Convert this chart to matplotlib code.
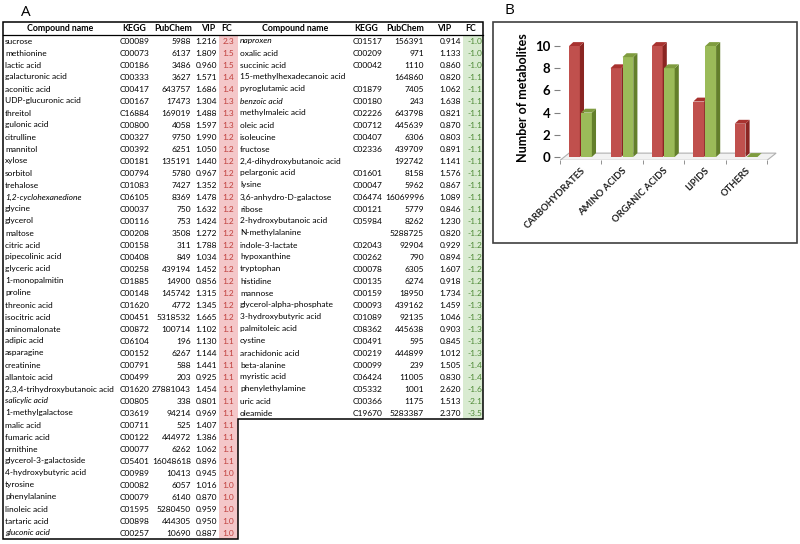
import matplotlib.pyplot as plt
from matplotlib.patches import Polygon, Rectangle

plt.rcParams['font.family'] = ['Lato', 'DejaVu Sans']

# ── Table A data (left block) ─────────────────────────────────
left_names = ['sucrose', 'methionine', 'lactic acid', 'galacturonic acid', 'aconitic acid',
              'UDP-glucuronic acid', 'threitol', 'gulonic acid', 'citrulline', 'mannitol',
              'xylose', 'sorbitol', 'trehalose', '1,2-cyclohexanedione', 'glycine',
              'glycerol', 'maltose', 'citric acid', 'pipecolinic acid', 'glyceric acid',
              '1-monopalmitin', 'proline', 'threonic acid', 'isocitric acid', 'aminomalonate',
              'adipic acid', 'asparagine', 'creatinine', 'allantoic acid',
              '2,3,4-trihydroxybutanoic acid', 'salicylic acid', '1-methylgalactose',
              'malic acid', 'fumaric acid', 'ornithine', 'glycerol-3-galactoside',
              '4-hydroxybutyric acid', 'tyrosine', 'phenylalanine', 'linoleic acid',
              'tartaric acid', 'gluconic acid']
left_kegg = ['C00089', 'C00073', 'C00186', 'C00333', 'C00417', 'C00167', 'C16884', 'C00800',
             'C00327', 'C00392', 'C00181', 'C00794', 'C01083', 'C06105', 'C00037', 'C00116',
             'C00208', 'C00158', 'C00408', 'C00258', 'C01885', 'C00148', 'C01620', 'C00451',
             'C00872', 'C06104', 'C00152', 'C00791', 'C00499', 'C01620', 'C00805', 'C03619',
             'C00711', 'C00122', 'C00077', 'C05401', 'C00989', 'C00082', 'C00079', 'C01595',
             'C00898', 'C00257']
left_pubchem = [5988, 6137, 3486, 3627, 643757, 17473, 169019, 4058, 9750, 6251, 135191, 5780,
                7427, 8369, 750, 753, 3508, 311, 849, 439194, 14900, 145742, 4772, 5318532,
                100714, 196, 6267, 588, 203, 27881043, 338, 94214, 525, 444972, 6262,
                16048618, 10413, 6057, 6140, 5280450, 444305, 10690]
left_vip = [1.216, 1.809, 0.960, 1.571, 1.686, 1.304, 1.488, 1.597, 1.990, 1.050, 1.440, 0.967,
            1.352, 1.478, 1.632, 1.424, 1.272, 1.788, 1.034, 1.452, 0.856, 1.315, 1.345, 1.665,
            1.102, 1.130, 1.144, 1.441, 0.925, 1.454, 0.801, 0.969, 1.407, 1.386, 1.062,
            0.896, 0.945, 1.016, 0.870, 0.959, 0.950, 0.887]
left_fc = [2.3, 1.5, 1.5, 1.4, 1.4, 1.3, 1.3, 1.3, 1.2, 1.2, 1.2, 1.2, 1.2, 1.2, 1.2, 1.2, 1.2,
           1.2, 1.2, 1.2, 1.2, 1.2, 1.2, 1.2, 1.1, 1.1, 1.1, 1.1, 1.1, 1.1, 1.1, 1.1, 1.1, 1.1,
           1.1, 1.1, 1.0, 1.0, 1.0, 1.0, 1.0, 1.0]

# ── Table A data (right block) ────────────────────────────────
right_names = ['naproxen', 'oxalic acid', 'succinic acid', '15-methylhexadecanoic acid',
               'pyroglutamic acid', 'benzoic acid', 'methylmaleic acid', 'oleic acid',
               'isoleucine', 'fructose', '2,4-dihydroxybutanoic acid', 'pelargonic acid',
               'lysine', '3,6-anhydro-D-galactose', 'ribose', '2-hydroxybutanoic acid',
               'N-methylalanine', 'indole-3-lactate', 'hypoxanthine', 'tryptophan',
               'histidine', 'mannose', 'glycerol-alpha-phosphate', '3-hydroxybutyric acid',
               'palmitoleic acid', 'cystine', 'arachidonic acid', 'beta-alanine',
               'myristic acid', 'phenylethylamine', 'uric acid', 'oleamide']
right_kegg = ['C01517', 'C00209', 'C00042', '', 'C01879', 'C00180', 'C02226', 'C00712',
              'C00407', 'C02336', '', 'C01601', 'C00047', 'C06474', 'C00121', 'C05984', '',
              'C02043', 'C00262', 'C00078', 'C00135', 'C00159', 'C00093', 'C01089', 'C08362',
              'C00491', 'C00219', 'C00099', 'C06424', 'C05332', 'C00366', 'C19670']
right_pubchem = [156391, 971, 1110, 164860, 7405, 243, 643798, 445639, 6306, 439709, 192742,
                 8158, 5962, 16069996, 5779, 8262, 5288725, 92904, 790, 6305, 6274, 18950,
                 439162, 92135, 445638, 595, 444899, 239, 11005, 1001, 1175, 5283387]
right_vip = [0.914, 1.133, 0.860, 0.820, 1.062, 1.638, 0.821, 0.870, 0.803, 0.891, 1.141,
             1.576, 0.867, 1.089, 0.846, 1.230, 0.820, 0.929, 0.894, 1.607, 0.918, 1.734,
             1.459, 1.046, 0.903, 0.845, 1.012, 1.505, 0.830, 2.620, 1.513, 2.370]
right_fc = [-1.0, -1.0, -1.0, -1.1, -1.1, -1.1, -1.1, -1.1, -1.1, -1.1, -1.1, -1.1, -1.1,
            -1.1, -1.1, -1.1, -1.2, -1.2, -1.2, -1.2, -1.2, -1.2, -1.3, -1.3, -1.3, -1.3,
            -1.3, -1.4, -1.4, -1.6, -2.1, -3.5]

italic_names = {'1,2-cyclohexanedione', 'salicylic acid', 'gluconic acid', 'naproxen',
                'benzoic acid'}
headers = ['Compound name', 'KEGG', 'PubChem', 'VIP', 'FC']

# ── Panel B data ──────────────────────────────────────────────
categories = ['CARBOHYDRATES', 'AMINO ACIDS', 'ORGANIC ACIDS', 'LIPIDS', 'OTHERS']
red_counts = [10, 8, 10, 5, 3]
green_counts = [4, 9, 8, 10, 0]
y_ticks = [0, 2, 4, 6, 8, 10]

# colours
PINK = '#f4c7c9'; LGREEN = '#d9ebd1'
FC_RED = '#c0403d'; FC_GREEN = '#4e8a36'
RED = '#c0504d'; RED_SIDE = '#8a2522'; RED_TOP = '#a8322f'
GRN = '#9bbb59'; GRN_SIDE = '#637f2b'; GRN_TOP = '#7f9c3f'

W, H = 800, 544
fig = plt.figure(figsize=(W / 100, H / 100), dpi=100)

# pixel-space overlay for the table and frames
ax0 = fig.add_axes([0, 0, 1, 1])
ax0.set_xlim(0, W)
ax0.set_ylim(H, 0)
ax0.axis('off')

TOP, HDR, ROW0, PITCH = 22, 35, 41, 12.0
FS = 6.0

def ry(i):
    return ROW0 + i * PITCH

bot_r = ry(len(right_names) - 1) + PITCH / 2
bot_l = ry(len(left_names) - 1) + PITCH / 2

ax0.add_patch(Rectangle((219, HDR), 19, bot_l - HDR, fc=PINK, ec='none'))
ax0.add_patch(Rectangle((463, HDR), 20, bot_r - HDR, fc=LGREEN, ec='none'))
ax0.add_patch(Polygon([(3, TOP), (483, TOP), (483, bot_r), (238, bot_r),
                       (238, bot_l), (3, bot_l)], closed=True, fill=False,
                      ec='black', lw=1.1))
ax0.plot([3, 483], [HDR, HDR], color='black', lw=0.9)

ax0.text(26, 12, 'A', fontsize=11, ha='center', va='center', family='Open Sans')
ax0.text(509, 10, 'B', fontsize=11, ha='center', va='center', family='Open Sans')

# header cells
hy = (TOP + HDR) / 2
for hx, txt in zip([60, 134, 173, 208, 227], headers):
    ax0.text(hx, hy, txt, fontsize=FS + 0.3, fontweight='bold', ha='center', va='center')
for hx, txt in zip([295, 366, 405, 444, 471], headers):
    ax0.text(hx, hy, txt, fontsize=FS + 0.3, fontweight='bold', ha='center', va='center')

def draw_block(names, kegg, pub, vip, fc, xs, fc_col):
    x_name, x_kegg, x_pub, x_vip, x_fc = xs
    for i, nm in enumerate(names):
        y = ry(i)
        st = 'italic' if nm in italic_names else 'normal'
        ax0.text(x_name, y, nm, fontsize=FS, style=st, ha='left', va='center')
        ax0.text(x_kegg, y, kegg[i], fontsize=FS, ha='left', va='center')
        ax0.text(x_pub, y, str(pub[i]), fontsize=FS, ha='right', va='center')
        ax0.text(x_vip, y, f'{vip[i]:.3f}', fontsize=FS, ha='right', va='center')
        ax0.text(x_fc, y, f'{fc[i]:.1f}', fontsize=FS, ha='right', va='center', color=fc_col)

draw_block(left_names, left_kegg, left_pubchem, left_vip, left_fc,
           (5, 120, 191, 217, 234), FC_RED)
draw_block(right_names, right_kegg, right_pubchem, right_vip, right_fc,
           (240, 353, 424, 461, 482), FC_GREEN)

# panel B frame
ax0.add_patch(Rectangle((493, 22), 304, 221, fill=False, ec='#404040', lw=1.2))

# ── Panel B: pseudo-3D clustered columns ──────────────────────
YMIN, YMAX, XMIN, XMAX = -0.3, 11.0, -0.5, 4.9
PX_X, PX_Y = 41.4, 11.1
y0_px = 157
ax = fig.add_axes([560 / W, 1 - (y0_px - YMIN * PX_Y) / H,
                   (XMAX - XMIN) * PX_X / W, (YMAX - YMIN) * PX_Y / H])
ax.set_xlim(XMIN, XMAX)
ax.set_ylim(YMIN, YMAX)
for s in ax.spines.values():
    s.set_visible(False)

DX, DY = 0.1, 0.35
BW = 0.26

# floor
ax.add_patch(Polygon([(-0.5, YMIN), (4.5, YMIN), (4.72, 0.35), (-0.28, 0.35)],
                     closed=True, fc='#f2f2f2', ec='#b0b0b0', lw=0.8, zorder=1))

def bar3d(x0, h, front, side, top):
    ax.bar(x0, h, width=BW, align='edge', color=front, zorder=3, linewidth=0)
    x1 = x0 + BW
    ax.add_patch(Polygon([(x1, 0), (x1 + DX, DY), (x1 + DX, h + DY), (x1, h)],
                         closed=True, fc=side, ec='none', zorder=3))
    ax.add_patch(Polygon([(x0, h), (x0 + DX, h + DY), (x1 + DX, h + DY), (x1, h)],
                         closed=True, fc=top, ec='none', zorder=3))

for i in range(len(categories)):
    bar3d(i - 0.28, red_counts[i], RED, RED_SIDE, RED_TOP)
    bar3d(i + 0.01, green_counts[i], GRN, GRN_SIDE, GRN_TOP)

ax.set_yticks(y_ticks)
ax.set_yticklabels([str(v) for v in y_ticks], fontsize=9.5, fontweight='bold')
ax.tick_params(axis='y', length=4, color='#808080', pad=3)
ax.set_xticks(range(len(categories)))
ax.set_xticklabels(categories, rotation=45, ha='right', rotation_mode='anchor',
                   fontsize=6.8, fontweight='bold', color='#202020')
ax.tick_params(axis='x', length=0, pad=4)
ax.set_xticks([i - 0.5 for i in range(len(categories) + 1)], minor=True)
ax.tick_params(axis='x', which='minor', length=3, color='#808080')
ax.set_ylabel('Number of metabolites', fontsize=9, fontweight='bold', labelpad=4)

fig.savefig('out.png', dpi=100, facecolor='white')
